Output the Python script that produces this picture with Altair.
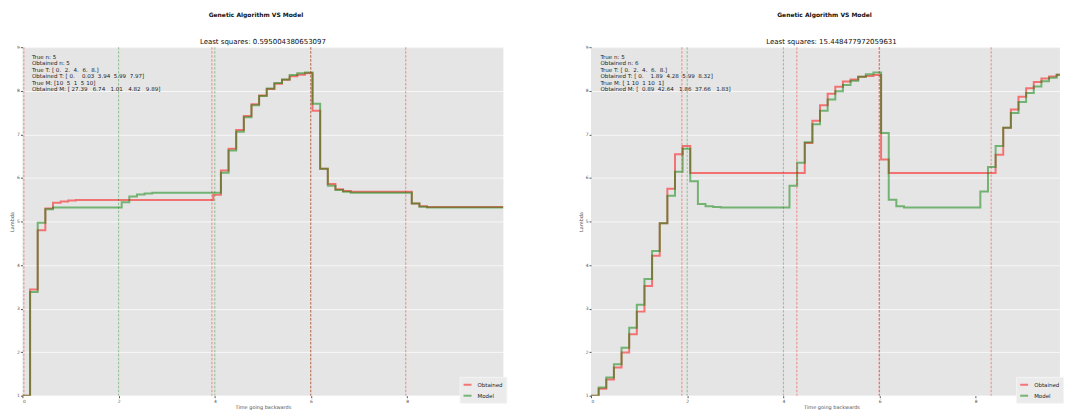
import altair as alt
import numpy as np
import pandas as pd

FONT = "DejaVu Sans"
RED = "#FF0000"
GREEN = "#008000"

SUPTITLE = "Genetic Algorithm VS Model"
SERIES = ["Obtained", "Model"]

# sampling grid of the step functions (64 samples from 0 to 10)
time_grid = np.linspace(0, 10, 64)

# ---------------- left panel ----------------
left_lsq = "Least squares: 0.595004380653097"
left_info = [
    "True n: 5",
    "Obtained n: 5",
    "True T: [ 0.  2.  4.  6.  8.]",
    "Obtained T: [ 0.    0.03  3.94  5.99  7.97]",
    "True M: [10  5  1  5 10]",
    "Obtained M: [ 27.39   6.74   1.01   4.82   9.89]",
]
left_obtained = [
    1.00, 3.44, 4.80, 5.30, 5.43, 5.46, 5.48, 5.49,
    5.49, 5.49, 5.49, 5.49, 5.49, 5.49, 5.49, 5.49,
    5.49, 5.49, 5.49, 5.49, 5.49, 5.49, 5.49, 5.49,
    5.49, 5.61, 6.17, 6.67, 7.10, 7.42, 7.69, 7.89,
    8.04, 8.16, 8.25, 8.33, 8.37, 8.40, 7.54, 6.21,
    5.86, 5.74, 5.70, 5.68, 5.68, 5.68, 5.68, 5.68,
    5.68, 5.68, 5.68, 5.41, 5.35, 5.33, 5.33, 5.33,
    5.33, 5.33, 5.33, 5.33, 5.33, 5.33, 5.33, 5.33,
]
left_model = [
    1.00, 3.38, 4.97, 5.28, 5.32, 5.32, 5.32, 5.32,
    5.32, 5.32, 5.32, 5.32, 5.32, 5.44, 5.57, 5.62,
    5.64, 5.66, 5.66, 5.66, 5.66, 5.66, 5.66, 5.66,
    5.66, 5.66, 6.12, 6.63, 7.06, 7.39, 7.67, 7.88,
    8.05, 8.18, 8.26, 8.36, 8.40, 8.42, 7.70, 6.21,
    5.82, 5.72, 5.68, 5.66, 5.66, 5.66, 5.66, 5.66,
    5.66, 5.66, 5.66, 5.41, 5.34, 5.32, 5.32, 5.32,
    5.32, 5.32, 5.32, 5.32, 5.32, 5.32, 5.32, 5.32,
]
left_true_lines = [2, 4, 6]
left_obt_lines = [0.03, 3.94, 5.99, 7.97]
left_x_ticks = [0, 2, 4, 6, 8, 10]

# ---------------- right panel ----------------
right_lsq = "Least squares: 15.448477972059631"
right_info = [
    "True n: 5",
    "Obtained n: 6",
    "True T: [ 0.  2.  4.  6.  8.]",
    "Obtained T: [ 0.    1.89  4.28  5.99  8.32]",
    "True M: [ 1 10  1 10  1]",
    "Obtained M: [  0.89  42.64   1.86  37.66   1.83]",
]
right_obtained = [
    1.00, 1.16, 1.37, 1.65, 1.99, 2.41, 2.93, 3.52,
    4.21, 4.96, 5.75, 6.54, 6.73, 6.11, 6.11, 6.11,
    6.11, 6.11, 6.11, 6.11, 6.11, 6.11, 6.11, 6.11,
    6.11, 6.11, 6.11, 6.11, 6.80, 7.31, 7.67, 7.93,
    8.09, 8.21, 8.26, 8.32, 8.34, 8.36, 6.42, 6.11,
    6.11, 6.11, 6.11, 6.11, 6.11, 6.11, 6.11, 6.11,
    6.11, 6.11, 6.11, 6.11, 6.11, 6.53, 7.15, 7.57,
    7.86, 8.06, 8.20, 8.28, 8.33, 8.37, 8.41, 8.41,
]
right_model = [
    1.00, 1.19, 1.42, 1.72, 2.10, 2.56, 3.09, 3.68,
    4.32, 4.96, 5.59, 6.14, 6.67, 5.92, 5.40, 5.35,
    5.33, 5.32, 5.32, 5.32, 5.32, 5.32, 5.32, 5.32,
    5.32, 5.32, 5.82, 6.35, 6.82, 7.23, 7.54, 7.80,
    7.99, 8.13, 8.23, 8.32, 8.38, 8.42, 7.03, 5.50,
    5.35, 5.32, 5.32, 5.32, 5.32, 5.32, 5.32, 5.32,
    5.32, 5.32, 5.32, 5.69, 6.25, 6.73, 7.15, 7.49,
    7.74, 7.95, 8.10, 8.22, 8.30, 8.37, 8.41, 8.41,
]
right_true_lines = [2, 4, 6]
right_obt_lines = [1.89, 4.28, 5.99, 8.32]
right_x_ticks = [0, 2, 4, 6, 8]

Y_TICKS = [1, 2, 3, 4, 5, 6, 7, 8, 9]

PX_PER_UNIT = 48.3
H = 350


def nb(s):
    return s.replace(" ", "\u00a0")


def panel(obtained, model, true_lines, obt_lines, info, lsq, xmax, x_ticks, full_width, legend_x):
    width = round(xmax * PX_PER_UNIT, 1)
    n = len(time_grid)
    df = pd.DataFrame({
        "t": np.concatenate([time_grid, time_grid]),
        "lam": list(obtained) + list(model),
        "series": [SERIES[0]] * n + [SERIES[1]] * n,
    })
    xs = alt.Scale(domain=[0, xmax], nice=False, zero=False)
    ys = alt.Scale(domain=[1, 9], nice=False, zero=False)
    color = alt.Color(
        "series:N",
        scale=alt.Scale(domain=SERIES, range=[RED, GREEN]),
        legend=alt.Legend(
            title=None, orient="none", legendX=legend_x, legendY=H - 19,
            fillColor="#EBEBEB", strokeColor="#F4F4F4", padding=3,
            symbolType="stroke", symbolSize=64, symbolStrokeWidth=2,
            symbolOpacity=0.5, labelFontSize=5.5, labelFont=FONT,
            labelColor="#222222", labelOffset=5, rowPadding=2,
        ),
    )
    base = alt.Chart(df)
    red_line = base.transform_filter(alt.datum.series == SERIES[0]).mark_line(
        interpolate="step-after", strokeWidth=2, opacity=0.5, clip=True
    ).encode(
        x=alt.X("t:Q", scale=xs, axis=alt.Axis(values=x_ticks, title="Time going backwards",
                                               labelPadding=1, titlePadding=1.5,
                                               titleX=full_width / 2, grid=False)),
        y=alt.Y("lam:Q", scale=ys, axis=alt.Axis(values=Y_TICKS, title="Lambda",
                                                 labelPadding=1, titlePadding=2,
                                                 grid=True, gridColor="#FFFFFF")),
        color=color,
    )
    green_line = base.transform_filter(alt.datum.series == SERIES[1]).mark_line(
        interpolate="step-after", strokeWidth=2, opacity=0.5, clip=True
    ).encode(
        x=alt.X("t:Q", scale=xs),
        y=alt.Y("lam:Q", scale=ys),
        color=color,
    )
    rl = pd.DataFrame({"t": obt_lines})
    gl = pd.DataFrame({"t": true_lines})
    red_rules = alt.Chart(rl).mark_rule(
        color=RED, strokeDash=[2.5, 1.5], strokeWidth=1, opacity=0.42
    ).encode(x=alt.X("t:Q", scale=xs))
    green_rules = alt.Chart(gl).mark_rule(
        color=GREEN, strokeDash=[2.5, 1.5], strokeWidth=1, opacity=0.38
    ).encode(x=alt.X("t:Q", scale=xs))
    info_df = pd.DataFrame({"txt": [nb("\n".join(info))]})
    info_txt = alt.Chart(info_df).mark_text(
        align="left", baseline="top", lineBreak="\n", fontSize=5.6, lineHeight=6.4,
        font=FONT, color="#222222"
    ).encode(text="txt:N", x=alt.value(9.5), y=alt.value(8))
    head_df = pd.DataFrame({"s": [SUPTITLE], "l": [lsq]})
    sup = alt.Chart(head_df).mark_text(
        fontSize=6, fontWeight="bold", font=FONT, align="center", baseline="middle",
        color="#111111"
    ).encode(text="s:N", x=alt.value(full_width / 2 - 7), y=alt.value(-32))
    lsq_txt = alt.Chart(head_df).mark_text(
        fontSize=7, font=FONT, align="center", baseline="middle", color="#111111"
    ).encode(text="l:N", x=alt.value(full_width / 2), y=alt.value(-5))

    return alt.layer(
        red_line, green_line, red_rules, green_rules, info_txt, sup, lsq_txt
    ).properties(width=width, height=H)


left = panel(left_obtained, left_model, left_true_lines, left_obt_lines,
             left_info, left_lsq, 10.0, left_x_ticks, 483, 439)
right = panel(right_obtained, right_model, right_true_lines, right_obt_lines,
              right_info, right_lsq, 9.75, right_x_ticks, 483, 427)

chart = alt.hconcat(left, right, spacing=71).resolve_scale(
    x="independent", y="independent", color="independent"
).properties(
    padding={"left": 1.5, "top": 3.5, "right": 0, "bottom": 0}
).configure_view(
    stroke=None, fill="#E5E5E5"
).configure_axis(
    labelFont=FONT, labelFontSize=4.5, labelColor="#555555",
    tickColor="#555555", tickSize=2, domain=False,
    gridColor="#FFFFFF", gridWidth=0.7,
    titleFont=FONT, titleFontSize=5, titleColor="#555555", titleFontWeight="normal",
)

chart.save("out.html", embed_options={"renderer": "svg", "actions": False})
